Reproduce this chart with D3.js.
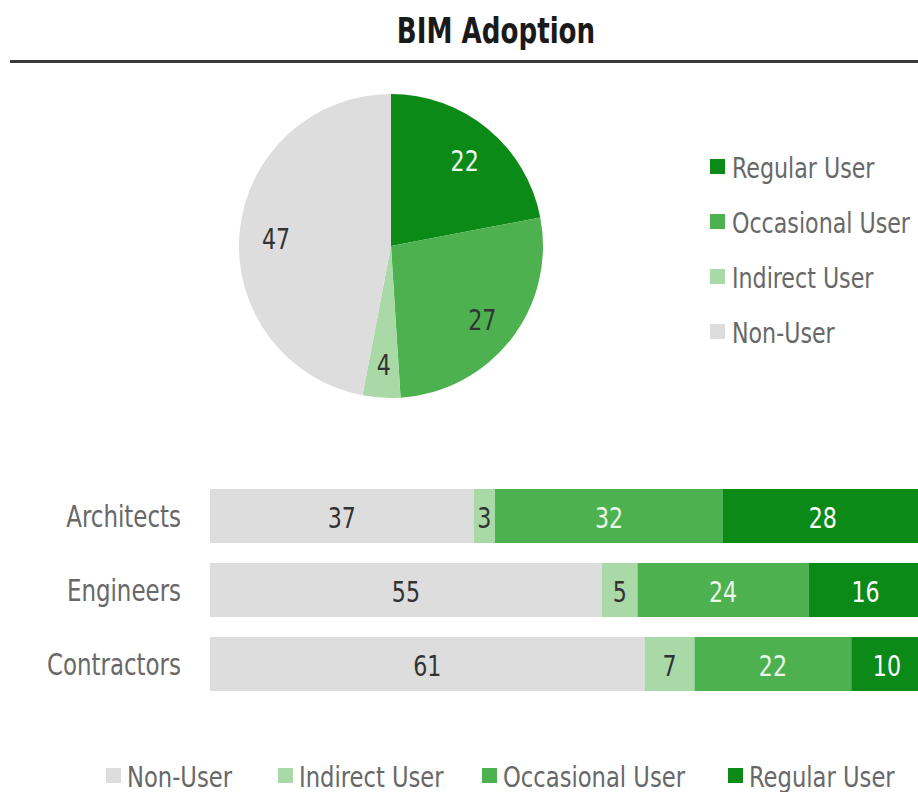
<!DOCTYPE html>
<html>
<head>
<meta charset="utf-8">
<script src="https://cdn.jsdelivr.net/npm/d3@7"></script>
<style>
  html, body { margin: 0; padding: 0; background: #fff; }
  svg { display: block; }
  text { font-family: "DejaVu Sans Condensed", "DejaVu Sans", sans-serif; font-stretch: condensed; }
</style>
</head>
<body>
<svg id="chart" width="918" height="792"></svg>
<script>
// Overall BIM adoption (percent of respondents)
const userTypes = ["Regular User", "Occasional User", "Indirect User", "Non-User"];
const overallValues = [22, 27, 4, 47];

// Adoption by discipline, stacked left to right
const disciplines = ["Architects", "Engineers", "Contractors"];
const stackOrder = ["Non-User", "Indirect User", "Occasional User", "Regular User"];
const nonUser = [37, 55, 61];
const indirectUser = [3, 5, 7];
const occasionalUser = [32, 24, 22];
const regularUser = [28, 16, 10];

const colors = {
  "Regular User": "#0c8a18",
  "Occasional User": "#4db14f",
  "Indirect User": "#a9d9a7",
  "Non-User": "#dddddd"
};
const labelColors = {
  "Regular User": "#ffffff",
  "Occasional User": "#eaf6e8",
  "Indirect User": "#333333",
  "Non-User": "#333333"
};

// Narrow the condensed face a little further for a tall, tight look
const squeeze = (x, y, s) => `translate(${x},${y}) scale(${s},1)`;

const svg = d3.select("#chart");

// Title and rule
svg.append("text")
  .attr("transform", squeeze(496, 43, 0.83))
  .attr("text-anchor", "middle")
  .attr("font-size", 35).attr("font-weight", "bold")
  .attr("fill", "#1a1a1a")
  .text("BIM Adoption");
svg.append("rect")
  .attr("x", 10).attr("y", 60).attr("width", 908).attr("height", 3)
  .attr("fill", "#3a3a3a");

// Pie
const pieG = svg.append("g").attr("transform", "translate(391,246)");
const radius = 152;
const pieData = d3.pie().sort(null).value(d => d.v)(
  userTypes.map((k, i) => ({ k, v: overallValues[i] }))
);
const arc = d3.arc().innerRadius(0).outerRadius(radius);
const labelArc = d3.arc().innerRadius(radius * 0.76).outerRadius(radius * 0.76);
pieG.selectAll("path").data(pieData).join("path")
  .attr("d", arc)
  .attr("fill", d => colors[d.data.k]);
pieG.selectAll("text").data(pieData).join("text")
  .attr("transform", d => { const [cx, cy] = labelArc.centroid(d); return squeeze(cx, cy + 4, 0.88); })
  .attr("text-anchor", "middle")
  .attr("dominant-baseline", "central")
  .attr("font-size", 28)
  .attr("fill", d => d.data.k === "Regular User" ? "#eef8ec" : "#333")
  .text(d => d.data.v);

// Right legend
const legR = svg.append("g").selectAll("g").data(userTypes).join("g")
  .attr("transform", (d, i) => `translate(710,${166 + i * 55})`);
legR.append("rect").attr("x", 0).attr("y", -7).attr("width", 15).attr("height", 15)
  .attr("fill", d => colors[d]);
legR.append("text")
  .attr("transform", squeeze(22, 2, 0.88))
  .attr("dominant-baseline", "central")
  .attr("font-size", 28).attr("fill", "#686868")
  .text(d => d);

// Stacked bars
const seriesByKey = {
  "Non-User": nonUser,
  "Indirect User": indirectUser,
  "Occasional User": occasionalUser,
  "Regular User": regularUser
};
const rows = disciplines.map((name, i) => {
  const r = { name };
  stackOrder.forEach(k => { r[k] = seriesByKey[k][i]; });
  return r;
});
const stacked = d3.stack().keys(stackOrder)(rows);

const x = d3.scaleLinear().domain([0, 100]).range([210, 922.5]);
const y = d3.scaleBand().domain(disciplines).range([479, 701]).paddingInner(0.27).paddingOuter(0.135);

const layers = svg.append("g").selectAll("g").data(stacked).join("g")
  .attr("fill", d => colors[d.key]);
layers.selectAll("rect").data(d => d).join("rect")
  .attr("x", d => x(d[0]))
  .attr("y", d => y(d.data.name))
  .attr("width", d => x(d[1]) - x(d[0]))
  .attr("height", y.bandwidth());

const labels = svg.append("g").selectAll("g").data(stacked).join("g");
labels.selectAll("text").data(d => d.map(v => ({ v, key: d.key }))).join("text")
  .attr("transform", d => squeeze((x(d.v[0]) + x(d.v[1])) / 2, y(d.v.data.name) + y.bandwidth() / 2 + 2, 0.88))
  .attr("text-anchor", "middle")
  .attr("dominant-baseline", "central")
  .attr("font-size", 28)
  .attr("fill", d => labelColors[d.key])
  .text(d => d.v.data[d.key]);

// Category axis labels
svg.append("g").selectAll("text").data(disciplines).join("text")
  .attr("transform", d => squeeze(181, y(d) + y.bandwidth() / 2 + 1, 0.85))
  .attr("text-anchor", "end")
  .attr("dominant-baseline", "central")
  .attr("font-size", 30)
  .attr("fill", "#686868")
  .text(d => d);

// Bottom legend
const legendXs = [106, 278, 482, 728];
const legB = svg.append("g").selectAll("g").data(stackOrder).join("g")
  .attr("transform", (d, i) => `translate(${legendXs[i]},775)`);
legB.append("rect").attr("x", 0).attr("y", -7).attr("width", 15).attr("height", 15)
  .attr("fill", d => colors[d]);
legB.append("text")
  .attr("transform", squeeze(21, 2, 0.9))
  .attr("dominant-baseline", "central")
  .attr("font-size", 28).attr("fill", "#686868")
  .text(d => d);
</script>
</body>
</html>
